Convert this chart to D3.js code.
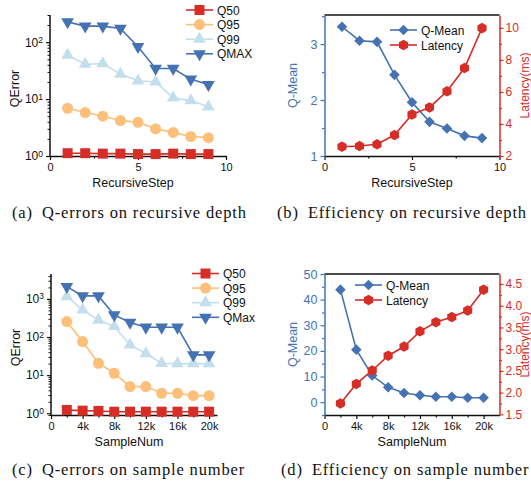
<!DOCTYPE html>
<html>
<head>
<meta charset="utf-8">
<script src="https://cdn.jsdelivr.net/npm/d3@7"></script>
<style>
  body { margin: 0; background: #fff; }
  svg { display: block; }
  .tick text { font-family: "Liberation Sans", Arial, sans-serif; }
</style>
</head>
<body>
<div id="chart"></div>
<script>
// recursive depth experiment
const recSteps = [1, 2, 3, 4, 5, 6, 7, 8, 9];
const recQ50 = [1.12, 1.12, 1.1, 1.1, 1.08, 1.08, 1.1, 1.08, 1.08];
const recQ95 = [6.9, 5.8, 5.0, 4.2, 3.9, 3.0, 2.6, 2.2, 2.1];
const recQ99 = [59, 41, 42, 27.5, 21, 20, 10.5, 9.4, 7.3];
const recQMax = [227, 191, 191, 174, 83, 34.5, 34.5, 22.4, 18];
const recQMean = [3.31, 3.06, 3.04, 2.45, 1.96, 1.61, 1.49, 1.36, 1.32];
const recLatency = [2.58, 2.62, 2.73, 3.31, 4.59, 5.03, 6.04, 7.49, 9.98];

// sample number experiment
const sampleNums = [2000, 4000, 6000, 8000, 10000, 12000, 14000, 16000, 18000, 20000];
const smpQ50 = [1.22, 1.17, 1.15, 1.1, 1.1, 1.1, 1.1, 1.1, 1.1, 1.1];
const smpQ95 = [254, 76, 20.5, 11.2, 5.0, 5.0, 3.35, 3.35, 2.9, 2.9];
const smpQ99 = [1150, 515, 280, 190, 62, 37, 20.5, 20, 20, 20];
const smpQMax = [2100, 1200, 1200, 380, 240, 180, 180, 180, 34, 34];
const smpQMean = [43.9, 20.5, 10.4, 5.8, 3.6, 2.7, 2.1, 2.1, 1.7, 1.7];
const smpLatency = [1.75, 2.2, 2.51, 2.85, 3.06, 3.41, 3.62, 3.74, 3.89, 4.37];

// tick labels
const recTicks = [0, 5, 10];
const recMinorTicks = [2.5, 7.5];
const smpTicks = [0, 4000, 8000, 12000, 16000, 20000];
const smpMinorTicks = [2000, 6000, 10000, 14000, 18000];
const captions = [
  '(a)\u2002Q-errors on recursive depth',
  '(b)\u2002Efficiency on recursive depth',
  '(c)\u2002Q-errors on sample number',
  '(d)\u2002Efficiency on sample number'
];

const SANS = '"Liberation Sans", Arial, sans-serif';
const SERIF = '"Liberation Serif", "Times New Roman", serif';
const RED = '#d62d27';
const BLUE = '#4572b3';

const svg = d3.select('#chart').append('svg')
  .attr('width', 531)
  .attr('height', 486);

// markers
const hexagon = {
  draw(ctx, size) {
    const r = Math.sqrt(size / (1.5 * Math.sqrt(3)));
    for (let i = 0; i < 6; i++) {
      const a = Math.PI / 3 * i - Math.PI / 2;
      if (i === 0) ctx.moveTo(r * Math.cos(a), r * Math.sin(a));
      else ctx.lineTo(r * Math.cos(a), r * Math.sin(a));
    }
    ctx.closePath();
  }
};
const markers = {
  square: { path: d3.symbol(d3.symbolSquare, 100)(), rot: 0 },
  circle: { path: d3.symbol(d3.symbolCircle, 95)(), rot: 0 },
  up: { path: d3.symbol(d3.symbolTriangle, 70)(), rot: 0 },
  down: { path: d3.symbol(d3.symbolTriangle, 70)(), rot: 180 },
  diamond: { path: d3.symbol(d3.symbolSquare, 56)(), rot: 45 },
  hex: { path: d3.symbol(hexagon, 72)(), rot: 0 }
};

function drawSeries(g, x, y, xs, values, color, marker) {
  const line = d3.line().x((d, i) => x(xs[i])).y(d => y(d));
  g.append('path')
    .datum(values)
    .attr('fill', 'none')
    .attr('stroke', color)
    .attr('stroke-width', 1.6)
    .attr('d', line);
  g.selectAll(null)
    .data(values)
    .enter().append('path')
    .attr('d', markers[marker].path)
    .attr('fill', color)
    .attr('transform', (d, i) => `translate(${x(xs[i])},${y(d)}) rotate(${markers[marker].rot})`);
}

function drawLegend(g, items, lx, ly, dy) {
  items.forEach((it, i) => {
    const row = g.append('g').attr('transform', `translate(${lx},${ly + i * dy})`);
    row.append('line')
      .attr('x1', 0).attr('x2', 27)
      .attr('stroke', it.color).attr('stroke-width', 1.6);
    row.append('path')
      .attr('d', markers[it.marker].path)
      .attr('fill', it.color)
      .attr('transform', `translate(13.5,0) rotate(${markers[it.marker].rot})`);
    row.append('text')
      .attr('x', 31).attr('y', 4.5)
      .style('font-family', SANS).style('font-size', '12px')
      .attr('fill', '#111')
      .text(it.name);
  });
}

function styleAxis(sel, color, size) {
  sel.select('.domain').attr('stroke', color).attr('stroke-width', 1.5);
  sel.selectAll('.tick line').attr('stroke', color).attr('stroke-width', 1.2);
  sel.selectAll('.tick text').attr('fill', color).style('font-size', size);
}

function xAxis(g, x, box, ticks, minor, fmt) {
  const ax = g.append('g')
    .attr('transform', `translate(0,${box.bottom})`)
    .call(d3.axisBottom(x).tickValues(ticks).tickSize(4).tickSizeOuter(0).tickPadding(3).tickFormat(fmt));
  styleAxis(ax, '#111', '11px');
  const mn = g.append('g')
    .attr('transform', `translate(0,${box.bottom})`)
    .call(d3.axisBottom(x).tickValues(minor).tickSize(2.5).tickFormat(''));
  mn.select('.domain').remove();
  mn.selectAll('.tick line').attr('stroke', '#111').attr('stroke-width', 1.2);
}

function qErrorPanel(box, xs, x, yDomain, series, ticks, minor, fmt, xLabel, legendX, legendY) {
  const g = svg.append('g');
  const y = d3.scaleLog().domain(yDomain).range([box.bottom, box.top]);

  // log y axis with superscript labels
  const exps = d3.range(Math.ceil(Math.log10(yDomain[0])), Math.floor(Math.log10(yDomain[1])) + 1);
  const ya = g.append('g')
    .attr('transform', `translate(${box.left},0)`)
    .call(d3.axisLeft(y).tickValues(exps.map(e => Math.pow(10, e))).tickSize(4).tickSizeOuter(0).tickPadding(3).tickFormat(() => '10'));
  ya.select('.domain').attr('d', `M0,${box.bottom}V${box.top}`);
  styleAxis(ya, '#111', '12px');
  ya.selectAll('.tick text').each(function (d) {
    d3.select(this).append('tspan')
      .attr('dy', '-0.45em')
      .style('font-size', '8.5px')
      .text(Math.round(Math.log10(d)));
  });
  const minorVals = [];
  for (let e = Math.floor(Math.log10(yDomain[0])); e <= Math.log10(yDomain[1]); e++) {
    for (let m = 2; m <= 9; m++) {
      const v = m * Math.pow(10, e);
      if (v >= yDomain[0] && v <= yDomain[1]) minorVals.push(v);
    }
  }
  const ym = g.append('g')
    .attr('transform', `translate(${box.left},0)`)
    .call(d3.axisLeft(y).tickValues(minorVals).tickSize(2.5).tickFormat(''));
  ym.select('.domain').remove();
  ym.selectAll('.tick line').attr('stroke', '#111').attr('stroke-width', 1);

  xAxis(g, x, box, ticks, minor, fmt);

  g.append('text')
    .attr('x', (box.left + box.right) / 2 - 5).attr('y', box.bottom + 31)
    .attr('text-anchor', 'middle')
    .style('font-family', SANS).style('font-size', '12.5px')
    .attr('fill', '#111')
    .text(xLabel);
  g.append('text')
    .attr('transform', `translate(${box.left - 31},${(box.top + box.bottom) / 2 + 3}) rotate(-90)`)
    .attr('text-anchor', 'middle')
    .style('font-family', SANS).style('font-size', '12.5px')
    .attr('fill', '#111')
    .text('QError');

  series.forEach(s => drawSeries(g, x, y, xs, s.values, s.color, s.marker));
  drawLegend(g, series, legendX, legendY, 14.6);
}

function efficiencyPanel(box, xs, x, qDomain, qTicks, qMinor, qFmt, lDomain, lTicks, lMinor, lFmt, qmean, latency, ticks, minor, fmt, xLabel, legendX, legendY) {
  const g = svg.append('g');
  const yl = d3.scaleLinear().domain(qDomain).range([box.bottom, box.top]);
  const yr = d3.scaleLinear().domain(lDomain).range([box.bottom, box.top]);

  g.append('line')
    .attr('x1', box.left).attr('x2', box.right)
    .attr('y1', box.top).attr('y2', box.top)
    .attr('stroke', '#111').attr('stroke-width', 1.5);

  xAxis(g, x, box, ticks, minor, fmt);

  const la = g.append('g')
    .attr('transform', `translate(${box.left},0)`)
    .call(d3.axisLeft(yl).tickValues(qTicks).tickSize(4).tickSizeOuter(0).tickPadding(3).tickFormat(qFmt));
  styleAxis(la, BLUE, '12.5px');
  const lm = g.append('g')
    .attr('transform', `translate(${box.left},0)`)
    .call(d3.axisLeft(yl).tickValues(qMinor).tickSize(2.5).tickFormat(''));
  lm.select('.domain').remove();
  lm.selectAll('.tick line').attr('stroke', BLUE).attr('stroke-width', 1.2);

  const ra = g.append('g')
    .attr('transform', `translate(${box.right},0)`)
    .call(d3.axisRight(yr).tickValues(lTicks).tickSize(4).tickSizeOuter(0).tickPadding(2).tickFormat(lFmt));
  styleAxis(ra, RED, '12px');
  const rm = g.append('g')
    .attr('transform', `translate(${box.right},0)`)
    .call(d3.axisRight(yr).tickValues(lMinor).tickSize(2.5).tickFormat(''));
  rm.select('.domain').remove();
  rm.selectAll('.tick line').attr('stroke', RED).attr('stroke-width', 1.2);

  g.append('text')
    .attr('x', (box.left + box.right) / 2).attr('y', box.bottom + 31)
    .attr('text-anchor', 'middle')
    .style('font-family', SANS).style('font-size', '12.5px')
    .attr('fill', '#111')
    .text(xLabel);
  g.append('text')
    .attr('transform', `translate(${box.left - 28},${(box.top + box.bottom) / 2}) rotate(-90)`)
    .attr('text-anchor', 'middle')
    .style('font-family', SANS).style('font-size', '12.5px')
    .attr('fill', BLUE)
    .text('Q-Mean');
  g.append('text')
    .attr('transform', `translate(${box.right + 29.5},${(box.top + box.bottom) / 2}) rotate(-90)`)
    .attr('text-anchor', 'middle')
    .style('font-family', SANS).style('font-size', '12px')
    .attr('fill', RED)
    .text('Latency(ms)');

  drawSeries(g, x, yl, xs, qmean, BLUE, 'diamond');
  drawSeries(g, x, yr, xs, latency, RED, 'hex');
  drawLegend(g, [
    { name: 'Q-Mean', color: BLUE, marker: 'diamond' },
    { name: 'Latency', color: RED, marker: 'hex' }
  ], legendX, legendY, 15);
}

const kFmt = d => d === 0 ? '0' : (d / 1000) + 'k';

// (a)
const boxA = { left: 50, right: 226, top: 15, bottom: 156 };
qErrorPanel(boxA, recSteps, d3.scaleLinear().domain([0, 10]).range([boxA.left, boxA.right]),
  [1, 300],
  [
    { name: 'Q50', values: recQ50, color: RED, marker: 'square' },
    { name: 'Q95', values: recQ95, color: '#fdbf79', marker: 'circle' },
    { name: 'Q99', values: recQ99, color: '#c3dfee', marker: 'up' },
    { name: 'QMAX', values: recQMax, color: BLUE, marker: 'down' }
  ],
  recTicks, recMinorTicks, d3.format('d'), 'RecursiveStep', 186, 10);

// (b)
const boxB = { left: 324.5, right: 499.5, top: 15, bottom: 156 };
efficiencyPanel(boxB, recSteps, d3.scaleLinear().domain([0, 10]).range([boxB.left, boxB.right]),
  [1, 3.52], [1, 2, 3], [1.5, 2.5, 3.5], d3.format('d'),
  [2, 10.8], [2, 4, 6, 8, 10], [3, 5, 7, 9], d3.format('d'),
  recQMean, recLatency, recTicks, recMinorTicks, d3.format('d'), 'RecursiveStep', 390, 30);

// (c)
const boxC = { left: 51, right: 217, top: 274, bottom: 415 };
qErrorPanel(boxC, sampleNums, d3.scaleLinear().domain([0, 21000]).range([boxC.left, boxC.right]),
  [0.9, 4500],
  [
    { name: 'Q50', values: smpQ50, color: RED, marker: 'square' },
    { name: 'Q95', values: smpQ95, color: '#fdbf79', marker: 'circle' },
    { name: 'Q99', values: smpQ99, color: '#c3dfee', marker: 'up' },
    { name: 'QMax', values: smpQMax, color: BLUE, marker: 'down' }
  ],
  smpTicks, smpMinorTicks, kFmt, 'SampleNum', 192, 273.5);

// (d)
const boxD = { left: 324.5, right: 499.5, top: 274, bottom: 415 };
efficiencyPanel(boxD, sampleNums, d3.scaleLinear().domain([0, 22000]).range([boxD.left, boxD.right]),
  [-5, 50], [0, 10, 20, 30, 40, 50], [-5, 5, 15, 25, 35, 45], d3.format('d'),
  [1.485, 4.73], [1.5, 2.0, 2.5, 3.0, 3.5, 4.0, 4.5], [1.75, 2.25, 2.75, 3.25, 3.75, 4.25], d3.format('.1f'),
  smpQMean, smpLatency, smpTicks, smpMinorTicks, kFmt, 'SampleNum', 355, 285);

// captions (wider serif face in the original, so letters are spread a little)
svg.selectAll('.caption')
  .data(captions)
  .enter().append('text')
  .attr('class', 'caption')
  .attr('x', (d, i) => [12, 277, 12, 281][i])
  .attr('y', (d, i) => i < 2 ? 218 : 475)
  .style('font-family', SERIF)
  .style('font-size', '16.5px')
  .style('letter-spacing', '0.85px')
  .attr('fill', '#111')
  .text(d => d);
</script>
</body>
</html>
